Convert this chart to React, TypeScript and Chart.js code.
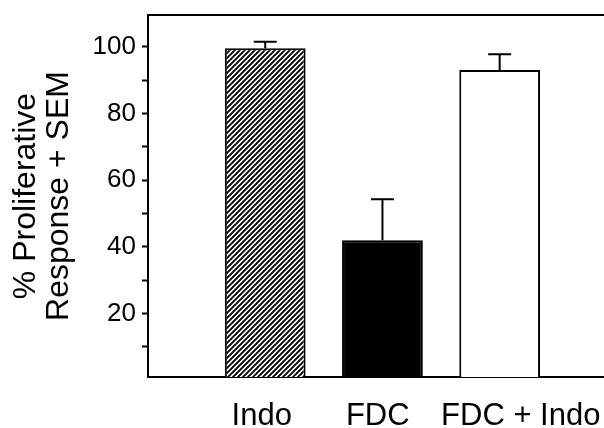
import React, { useEffect, useRef } from "react";
import { Chart, registerables } from "chart.js";

Chart.register(...registerables);

const categories = ["Indo", "FDC", "FDC + Indo"];
const positions = [1, 2, 3];
const labelAt = [0.97, 1.96, 3.18];
const values = [99.5, 42, 93];
const errors = [2, 12.3, 4.7];
const yTickLabels = [20, 40, 60, 80, 100];

const SANS = "'Liberation Sans', Arial, sans-serif";

function makeHatch(): CanvasPattern | string {
  const s = 5;
  const c = document.createElement("canvas");
  c.width = s;
  c.height = s;
  const ctx = c.getContext("2d");
  if (!ctx) return "#888";
  ctx.fillStyle = "#fff";
  ctx.fillRect(0, 0, s, s);
  ctx.strokeStyle = "#000";
  ctx.lineWidth = 1.9;
  ctx.beginPath();
  ctx.moveTo(-1, s + 1);
  ctx.lineTo(s + 1, -1);
  ctx.moveTo(-1, 1);
  ctx.lineTo(1, -1);
  ctx.moveTo(s - 1, s + 1);
  ctx.lineTo(s + 1, s - 1);
  ctx.stroke();
  const p = ctx.createPattern(c, "repeat");
  return p || "#888";
}

const frameAndErrors = {
  id: "frameAndErrors",
  afterDatasetsDraw(chart: any) {
    const { ctx, chartArea, scales } = chart;
    const y = scales.y;
    const meta = chart.getDatasetMeta(0);
    ctx.save();
    ctx.strokeStyle = "#000";
    ctx.lineWidth = 2;
    meta.data.forEach((bar: any, i: number) => {
      const top = y.getPixelForValue(values[i] + errors[i]);
      const base = y.getPixelForValue(values[i]);
      const cx = bar.x;
      ctx.beginPath();
      ctx.moveTo(cx, base);
      ctx.lineTo(cx, top);
      ctx.moveTo(cx - 11.5, top);
      ctx.lineTo(cx + 11.5, top);
      ctx.stroke();
    });
    ctx.beginPath();
    ctx.moveTo(chartArea.left - 1, chartArea.top);
    ctx.lineTo(chartArea.right, chartArea.top);
    ctx.stroke();
    ctx.restore();
  },
};

export default function App() {
  const ref = useRef<HTMLCanvasElement | null>(null);
  useEffect(() => {
    if (!ref.current) return;
    const hatch = makeHatch();
    const chart = new Chart(ref.current, {
      type: "bar",
      data: {
        datasets: [
          {
            data: values.map((v, i) => ({ x: positions[i], y: v })),
            backgroundColor: [hatch, "#000", "#fff"],
            borderColor: "#000",
            borderWidth: 2,
            barPercentage: 0.87,
            categoryPercentage: 0.8,
          },
        ],
      },
      options: {
        animation: false,
        responsive: false,
        events: [],
        layout: { padding: { top: 15, right: 0, bottom: 0, left: 0 } },
        plugins: { legend: { display: false }, tooltip: { enabled: false } },
        scales: {
          x: {
            type: "linear",
            min: 0,
            max: 3.89,
            offset: false,
            grid: { display: false, offset: false },
            border: { display: true, color: "#000", width: 2 },
            afterBuildTicks: (scale: any) => {
              scale.ticks = labelAt.map((p) => ({ value: p }));
            },
            afterFit: (scale: any) => {
              scale.height = 51;
              scale.paddingLeft = 0;
              scale.paddingRight = 0;
            },
            ticks: {
              autoSkip: false,
              maxRotation: 0,
              minRotation: 0,
              color: "#000",
              padding: 13,
              font: { family: SANS, size: 31 },
              callback: (v: any) => {
                const i = labelAt.indexOf(Number(v));
                return i >= 0 ? categories[i] : "";
              },
            },
          },
          y: {
            min: 1,
            max: 109.5,
            afterFit: (scale: any) => {
              scale.width = 148;
              scale.paddingTop = 0;
              scale.paddingBottom = 0;
            },
            afterBuildTicks: (scale: any) => {
              const t: any[] = [];
              for (let v = 10; v <= 100; v += 10) t.push({ value: v });
              scale.ticks = t;
            },
            grid: {
              display: true,
              drawOnChartArea: false,
              drawTicks: true,
              tickLength: 6,
              tickWidth: 2,
              color: "#000",
            },
            border: { display: true, color: "#000", width: 2 },
            ticks: {
              color: "#000",
              padding: 6,
              font: { family: SANS, size: 26 },
              callback: (v: any) => (yTickLabels.includes(Number(v)) ? String(v) : ""),
            },
            title: {
              display: true,
              text: ["% Proliferative", "Response + SEM"],
              color: "#000",
              font: { family: SANS, size: 32, lineHeight: 1.03 },
              padding: { top: 10, bottom: 0 },
            },
          },
        },
      },
      plugins: [frameAndErrors],
    } as any);
    return () => chart.destroy();
  }, []);
  return (
    <div style={{ position: "fixed", left: 0, top: 0, width: 604, height: 428, background: "#fff" }}>
      <canvas ref={ref} width={604} height={428} style={{ display: "block" }} />
    </div>
  );
}
